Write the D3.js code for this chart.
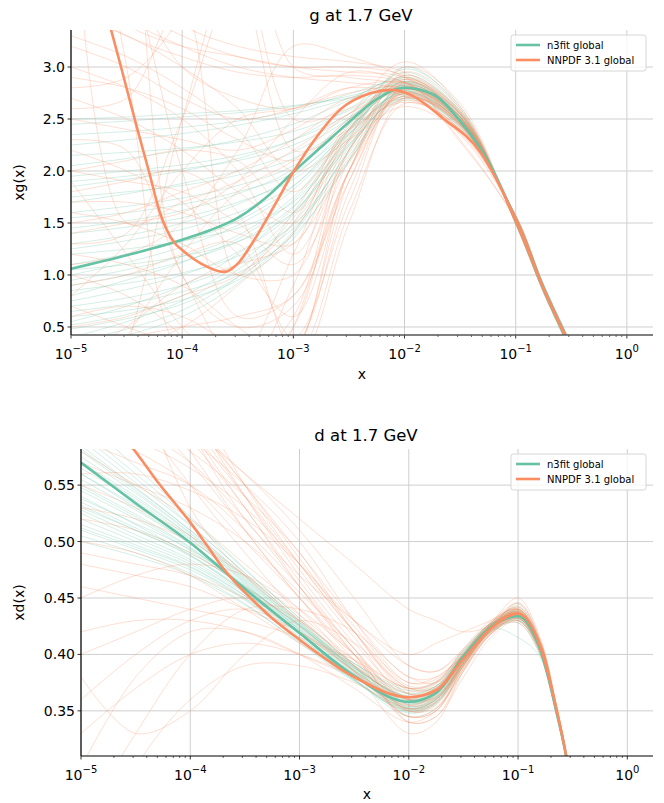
<!DOCTYPE html>
<html>
<head>
<meta charset="utf-8">
<script src="https://cdn.jsdelivr.net/npm/d3@7"></script>
<style>
  body { margin: 0; background: #fff; }
  svg { font-family: "DejaVu Sans", sans-serif; }
</style>
</head>
<body>
<div id="chart"></div>
<script>
// colours of the two fits
var n3fitColor = "#66c2a5";
var nnpdfColor = "#fc8d62";
var legendLabels = ["n3fit global", "NNPDF 3.1 global"];

// ---- gluon panel ----
// x positions are log10(x)
var gCentralN3fitX = [-5, -4.5, -4, -3.75, -3.5, -3.25, -3, -2.75, -2.5, -2.25, -2, -1.75, -1.5, -1.25, -1, -0.75, -0.55, -0.45];
var gCentralN3fitY = [1.06, 1.19, 1.34, 1.43, 1.55, 1.74, 1.99, 2.23, 2.47, 2.69, 2.80, 2.74, 2.48, 2.10, 1.53, 0.87, 0.40, 0.15];
var gCentralNnpdfX = [-4.7, -4.55, -4.4, -4.3, -4.2, -4.07, -4, -3.83, -3.62, -3.5, -3.35, -3.18, -3, -2.76, -2.58, -2.3, -2.12, -1.94, -1.67, -1.31, -1, -0.75, -0.55, -0.45];
var gCentralNnpdfY = [3.6, 3.0, 2.39, 2.0, 1.6, 1.31, 1.24, 1.11, 1.03, 1.11, 1.34, 1.65, 1.99, 2.37, 2.59, 2.75, 2.78, 2.73, 2.52, 2.17, 1.53, 0.87, 0.40, 0.15];

var gReplicaX = [-5, -4.5, -4, -3.5, -3, -2.5, -2, -1.5, -1, -0.75, -0.5];
var gN3fitReplicas = [
  [2.45, 2.48, 2.52, 2.56, 2.62, 2.72, 2.82, 2.50, 1.52, 0.86, 0.28],
  [0.55, 0.70, 0.90, 1.20, 1.65, 2.30, 2.78, 2.49, 1.54, 0.88, 0.30],
  [1.85, 1.92, 2.00, 2.12, 2.30, 2.60, 2.85, 2.52, 1.51, 0.85, 0.27],
  [0.95, 1.05, 1.18, 1.38, 1.75, 2.35, 2.76, 2.46, 1.55, 0.89, 0.31],
  [1.30, 1.38, 1.50, 1.68, 1.95, 2.42, 2.80, 2.50, 1.53, 0.87, 0.29],
  [0.40, 0.55, 0.75, 1.05, 1.50, 2.22, 2.74, 2.47, 1.56, 0.90, 0.32],
  [2.05, 2.12, 2.20, 2.30, 2.45, 2.68, 2.90, 2.55, 1.50, 0.84, 0.26],
  [1.60, 1.66, 1.74, 1.86, 2.05, 2.45, 2.82, 2.51, 1.52, 0.86, 0.28],
  [0.75, 0.86, 1.00, 1.22, 1.60, 2.28, 2.77, 2.48, 1.54, 0.88, 0.30],
  [1.10, 1.20, 1.32, 1.52, 1.85, 2.40, 2.83, 2.52, 1.52, 0.86, 0.28],
  [0.30, 0.42, 0.60, 0.92, 1.42, 2.18, 2.72, 2.45, 1.56, 0.90, 0.33],
  [1.95, 2.00, 2.06, 2.15, 2.30, 2.55, 2.95, 2.58, 1.49, 0.83, 0.25],
  [1.45, 1.52, 1.62, 1.78, 2.02, 2.50, 2.86, 2.53, 1.51, 0.85, 0.27],
  [0.85, 0.92, 1.02, 1.18, 1.48, 2.15, 2.70, 2.44, 1.57, 0.91, 0.34],
  [2.25, 2.30, 2.36, 2.44, 2.55, 2.70, 2.88, 2.54, 1.51, 0.85, 0.27],
  [0.60, 0.66, 0.76, 0.95, 1.35, 2.10, 2.68, 2.43, 1.57, 0.91, 0.34],
  [1.70, 1.78, 1.88, 2.00, 2.18, 2.50, 2.84, 2.51, 1.52, 0.86, 0.28],
  [1.20, 1.25, 1.33, 1.45, 1.70, 2.32, 2.79, 2.49, 1.53, 0.87, 0.29],
  [0.48, 0.58, 0.72, 0.98, 1.40, 2.20, 2.81, 2.50, 1.53, 0.87, 0.29],
  [1.00, 1.12, 1.27, 1.48, 1.82, 2.38, 3.00, 2.60, 1.50, 0.84, 0.26],
  [2.50, 2.52, 2.55, 2.58, 2.63, 2.70, 2.78, 2.47, 1.53, 0.87, 0.29],
  [0.35, 0.48, 0.66, 0.98, 1.55, 2.25, 2.75, 2.45, 1.55, 0.89, 0.31],
  [1.40, 1.46, 1.55, 1.70, 1.92, 2.38, 2.90, 2.56, 1.51, 0.85, 0.27],
  [0.70, 0.78, 0.90, 1.10, 1.45, 2.12, 2.80, 2.52, 1.52, 0.86, 0.28],
  [1.75, 1.80, 1.86, 1.96, 2.12, 2.44, 2.74, 2.42, 1.56, 0.90, 0.32],
  [0.90, 1.00, 1.13, 1.32, 1.66, 2.33, 2.92, 2.57, 1.50, 0.85, 0.27],
  [2.15, 2.18, 2.22, 2.28, 2.38, 2.58, 2.80, 2.48, 1.54, 0.88, 0.30],
  [0.52, 0.62, 0.80, 1.10, 1.58, 2.26, 2.70, 2.40, 1.57, 0.91, 0.33],
  [1.25, 1.33, 1.44, 1.60, 1.86, 2.36, 2.76, 2.47, 1.54, 0.88, 0.30],
  [1.55, 1.60, 1.68, 1.80, 1.98, 2.40, 2.98, 2.62, 1.49, 0.83, 0.25],
  [0.65, 0.72, 0.84, 1.02, 1.38, 2.08, 2.84, 2.53, 1.52, 0.86, 0.28],
  [2.35, 2.38, 2.42, 2.48, 2.58, 2.74, 2.86, 2.50, 1.52, 0.86, 0.28],
  [1.05, 1.10, 1.18, 1.32, 1.60, 2.24, 2.72, 2.44, 1.56, 0.90, 0.32],
  [1.90, 1.95, 2.02, 2.10, 2.25, 2.52, 2.82, 2.50, 1.53, 0.87, 0.29],
  [0.80, 0.95, 1.12, 1.35, 1.72, 2.36, 2.86, 2.55, 1.51, 0.85, 0.27]
];
var gNnpdfReplicas = [
  [3.6, 3.3, 3.1, 2.95, 2.9, 2.92, 2.85, 2.52, 1.52, 0.88, 0.30],
  [0.2, 0.5, 0.9, 1.1, 1.3, 2.1, 2.75, 2.48, 1.54, 0.86, 0.30],
  [5.0, 4.0, 2.0, 0.6, 0.8, 2.0, 2.70, 2.45, 1.55, 0.87, 0.30],
  [1.8, 1.9, 2.0, 1.6, 0.3, 1.9, 2.78, 2.50, 1.53, 0.86, 0.29],
  [2.5, 2.4, 2.3, 2.2, 2.4, 2.7, 2.75, 2.42, 1.56, 0.88, 0.31],
  [-1.0, 0.3, 2.5, 4.0, 2.5, 2.6, 2.82, 2.52, 1.51, 0.85, 0.28],
  [3.0, 2.8, 2.5, 2.0, 1.2, 2.2, 2.88, 2.55, 1.50, 0.84, 0.27],
  [1.2, 1.1, 0.9, 0.5, 0.2, 1.6, 2.65, 2.40, 1.57, 0.89, 0.32],
  [4.5, 3.5, 3.2, 3.0, 2.9, 2.85, 2.78, 2.47, 1.54, 0.87, 0.30],
  [0.8, 1.3, 2.0, 2.5, 2.6, 2.75, 2.80, 2.49, 1.53, 0.86, 0.29],
  [2.2, 2.0, 1.7, 1.2, 0.6, 2.0, 2.95, 2.60, 1.50, 0.84, 0.27],
  [6.0, 3.0, 0.2, 0.0, 0.9, 2.3, 2.72, 2.44, 1.55, 0.88, 0.31],
  [1.5, 1.6, 1.8, 2.0, 2.3, 2.65, 2.85, 2.30, 1.52, 0.87, 0.30],
  [3.3, 3.1, 2.8, 2.4, 1.8, 2.4, 2.70, 2.50, 1.53, 0.86, 0.29],
  [0.5, 0.6, 0.8, 1.0, 1.5, 2.5, 3.05, 2.62, 1.49, 0.84, 0.27],
  [2.8, 2.9, 3.5, 4.5, 3.0, 2.9, 2.82, 2.50, 1.53, 0.86, 0.29],
  [1.0, 0.8, 0.4, -0.5, 0.5, 2.0, 2.76, 2.46, 1.54, 0.87, 0.30],
  [3.8, 3.4, 3.2, 3.1, 3.0, 2.95, 2.90, 2.56, 1.51, 0.85, 0.28],
  [2.0, 2.1, 2.2, 2.1, 1.6, 2.3, 2.68, 2.38, 1.56, 0.88, 0.31],
  [0.3, 0.4, 0.5, 0.6, 0.8, 1.9, 2.80, 2.50, 1.53, 0.86, 0.29],
  [5.0, 1.5, 1.7, 1.9, 2.2, 2.55, 2.75, 2.45, 1.55, 0.87, 0.30],
  [1.4, 1.5, 1.6, 1.9, 2.5, 2.95, 2.85, 2.50, 1.53, 0.86, 0.29],
  [4.0, 3.6, 3.3, 3.1, 3.0, 3.0, 2.92, 2.58, 1.51, 0.85, 0.28],
  [0.1, 0.2, 0.3, 0.2, 0.3, 1.8, 2.78, 2.48, 1.54, 0.87, 0.30],
  [2.6, 2.7, 3.6, 1.0, 1.6, 2.4, 2.80, 2.45, 1.55, 0.88, 0.31],
  [1.6, 1.5, 1.3, 1.0, 1.0, 2.2, 2.72, 2.35, 1.56, 0.88, 0.31],
  [5.5, 4.0, 3.0, 2.7, 2.6, 2.8, 2.85, 2.55, 1.51, 0.85, 0.28],
  [0.9, 1.0, 1.2, 1.3, 0.4, 1.7, 2.82, 2.52, 1.52, 0.86, 0.29],
  [3.2, 3.0, 2.7, 2.5, 2.6, 2.8, 2.72, 2.40, 1.57, 0.89, 0.32],
  [2.3, 2.2, 1.0, 0.2, 1.2, 2.4, 2.90, 2.50, 1.52, 0.86, 0.29],
  [-0.5, 0.4, 1.2, 1.8, 2.1, 2.55, 2.76, 2.44, 1.55, 0.88, 0.31],
  [3.5, 3.3, 3.0, 2.6, 2.0, 2.3, 2.62, 2.36, 1.58, 0.90, 0.33],
  [1.1, 1.2, 1.5, 2.2, 3.2, 3.1, 2.90, 2.55, 1.51, 0.85, 0.28],
  [7.0, 5.0, 1.0, 0.5, 0.7, 2.0, 2.85, 2.52, 1.52, 0.86, 0.29],
  [2.0, 1.9, 1.8, 1.5, 1.1, 2.1, 3.00, 2.65, 1.49, 0.84, 0.27],
  [0.6, 0.7, 0.6, 0.3, 0.1, 1.5, 2.70, 2.45, 1.55, 0.88, 0.31],
  [2.9, 2.8, 2.6, 2.3, 2.1, 2.5, 2.84, 2.28, 1.53, 0.87, 0.30],
  [1.3, 1.4, 2.5, 3.8, 2.2, 2.4, 2.74, 2.46, 1.54, 0.87, 0.30],
  [4.2, 3.8, 3.4, 3.2, 3.1, 3.05, 2.95, 2.58, 1.50, 0.85, 0.28],
  [0.4, 0.3, 0.5, 0.9, 1.4, 2.4, 2.88, 2.54, 1.52, 0.86, 0.29],
  [1.7, 1.7, 1.6, 1.4, 1.3, 2.35, 2.66, 2.42, 1.56, 0.89, 0.32],
  [2.7, 2.5, 2.2, 1.8, 1.5, 2.45, 2.80, 2.48, 1.54, 0.87, 0.30],
  [0.3, 0.2, 0.1, -0.2, 0.2, 2.0, 2.80, 2.50, 1.53, 0.86, 0.29],
  [1.9, 1.2, 0.5, 0.0, 0.5, 2.2, 2.86, 2.52, 1.52, 0.86, 0.29],
  [0.7, 0.5, 0.3, 0.1, 0.6, 2.3, 2.92, 2.56, 1.51, 0.85, 0.28]
];
var gYTicks = [0.5, 1.0, 1.5, 2.0, 2.5, 3.0];

// ---- down quark panel ----
var dCentralN3fitX = [-5, -4.5, -4, -3.5, -3, -2.5, -2, -1.75, -1.5, -1.25, -1, -0.8, -0.65, -0.55, -0.45];
var dCentralN3fitY = [0.570, 0.534, 0.499, 0.458, 0.419, 0.381, 0.358, 0.366, 0.398, 0.424, 0.434, 0.405, 0.350, 0.305, 0.24];
var dCentralNnpdfX = [-4.6, -4.45, -4.3, -4.15, -4, -3.85, -3.72, -3.6, -3.5, -3.25, -3, -2.5, -2, -1.75, -1.5, -1.25, -1, -0.8, -0.65, -0.55, -0.45];
var dCentralNnpdfY = [0.592, 0.573, 0.553, 0.535, 0.517, 0.497, 0.479, 0.465, 0.455, 0.432, 0.413, 0.380, 0.362, 0.368, 0.396, 0.423, 0.436, 0.408, 0.352, 0.305, 0.24];

var dReplicaX = [-5, -4.5, -4, -3.5, -3, -2.5, -2, -1.75, -1.5, -1.25, -1, -0.8, -0.65, -0.55, -0.45];
var dN3fitReplicas = [
  [0.600, 0.560, 0.520, 0.475, 0.432, 0.392, 0.368, 0.374, 0.404, 0.428, 0.438, 0.408, 0.352, 0.306, 0.24],
  [0.515, 0.497, 0.478, 0.450, 0.415, 0.380, 0.352, 0.360, 0.392, 0.420, 0.430, 0.403, 0.348, 0.303, 0.24],
  [0.545, 0.520, 0.492, 0.458, 0.420, 0.383, 0.356, 0.364, 0.396, 0.424, 0.434, 0.405, 0.350, 0.305, 0.24],
  [0.585, 0.548, 0.510, 0.470, 0.428, 0.388, 0.362, 0.370, 0.400, 0.428, 0.440, 0.410, 0.354, 0.307, 0.24],
  [0.530, 0.510, 0.488, 0.456, 0.418, 0.378, 0.345, 0.352, 0.385, 0.418, 0.432, 0.406, 0.351, 0.305, 0.24],
  [0.570, 0.540, 0.505, 0.465, 0.425, 0.390, 0.365, 0.372, 0.402, 0.426, 0.436, 0.407, 0.350, 0.304, 0.24],
  [0.505, 0.490, 0.472, 0.445, 0.410, 0.376, 0.350, 0.358, 0.392, 0.422, 0.445, 0.412, 0.355, 0.308, 0.24],
  [0.555, 0.528, 0.498, 0.462, 0.424, 0.386, 0.358, 0.366, 0.398, 0.426, 0.438, 0.408, 0.351, 0.305, 0.24],
  [0.595, 0.556, 0.515, 0.472, 0.430, 0.390, 0.360, 0.368, 0.400, 0.425, 0.432, 0.404, 0.349, 0.304, 0.24],
  [0.525, 0.503, 0.482, 0.452, 0.416, 0.378, 0.348, 0.356, 0.390, 0.420, 0.428, 0.400, 0.347, 0.302, 0.24],
  [0.560, 0.532, 0.502, 0.464, 0.422, 0.384, 0.356, 0.363, 0.395, 0.423, 0.415, 0.398, 0.346, 0.302, 0.24],
  [0.540, 0.515, 0.488, 0.455, 0.418, 0.382, 0.354, 0.362, 0.394, 0.425, 0.440, 0.409, 0.353, 0.306, 0.24],
  [0.580, 0.545, 0.508, 0.468, 0.427, 0.388, 0.363, 0.371, 0.401, 0.427, 0.435, 0.406, 0.350, 0.304, 0.24],
  [0.510, 0.493, 0.475, 0.448, 0.413, 0.377, 0.349, 0.357, 0.390, 0.421, 0.433, 0.405, 0.350, 0.305, 0.24],
  [0.565, 0.536, 0.503, 0.463, 0.421, 0.381, 0.352, 0.360, 0.393, 0.424, 0.437, 0.407, 0.351, 0.305, 0.24],
  [0.535, 0.512, 0.490, 0.460, 0.426, 0.392, 0.370, 0.376, 0.403, 0.427, 0.434, 0.405, 0.350, 0.304, 0.24],
  [0.590, 0.552, 0.514, 0.472, 0.429, 0.389, 0.361, 0.368, 0.399, 0.425, 0.433, 0.405, 0.350, 0.304, 0.24],
  [0.520, 0.500, 0.480, 0.452, 0.418, 0.383, 0.357, 0.365, 0.396, 0.423, 0.436, 0.407, 0.351, 0.305, 0.24],
  [0.550, 0.524, 0.495, 0.460, 0.423, 0.386, 0.359, 0.367, 0.397, 0.424, 0.431, 0.403, 0.349, 0.304, 0.24],
  [0.575, 0.543, 0.507, 0.467, 0.426, 0.387, 0.360, 0.366, 0.398, 0.426, 0.442, 0.411, 0.354, 0.307, 0.24],
  [0.500, 0.487, 0.470, 0.444, 0.411, 0.377, 0.351, 0.359, 0.391, 0.420, 0.432, 0.405, 0.350, 0.305, 0.24],
  [0.560, 0.530, 0.498, 0.460, 0.420, 0.382, 0.353, 0.361, 0.394, 0.423, 0.435, 0.406, 0.350, 0.305, 0.24],
  [0.610, 0.566, 0.522, 0.476, 0.432, 0.392, 0.366, 0.372, 0.401, 0.426, 0.437, 0.408, 0.352, 0.305, 0.24],
  [0.538, 0.516, 0.493, 0.461, 0.425, 0.388, 0.362, 0.369, 0.399, 0.425, 0.433, 0.404, 0.349, 0.304, 0.24],
  [0.528, 0.506, 0.484, 0.454, 0.419, 0.382, 0.354, 0.361, 0.393, 0.423, 0.438, 0.409, 0.352, 0.306, 0.24],
  [0.568, 0.538, 0.505, 0.466, 0.426, 0.386, 0.357, 0.364, 0.396, 0.425, 0.439, 0.409, 0.353, 0.306, 0.24],
  [0.512, 0.495, 0.477, 0.449, 0.414, 0.378, 0.350, 0.357, 0.391, 0.421, 0.430, 0.402, 0.348, 0.303, 0.24],
  [0.548, 0.522, 0.494, 0.459, 0.422, 0.385, 0.358, 0.366, 0.397, 0.424, 0.435, 0.406, 0.350, 0.305, 0.24],
  [0.582, 0.547, 0.510, 0.469, 0.428, 0.389, 0.363, 0.370, 0.400, 0.427, 0.436, 0.407, 0.351, 0.305, 0.24],
  [0.532, 0.510, 0.487, 0.455, 0.419, 0.381, 0.352, 0.360, 0.393, 0.422, 0.434, 0.406, 0.350, 0.305, 0.24]
];
var dNnpdfReplicas = [
  [0.70, 0.64, 0.58, 0.51, 0.45, 0.40, 0.370, 0.375, 0.405, 0.430, 0.440, 0.410, 0.353, 0.306, 0.24],
  [0.50, 0.49, 0.47, 0.44, 0.41, 0.38, 0.355, 0.365, 0.395, 0.423, 0.436, 0.407, 0.351, 0.305, 0.24],
  [0.42, 0.43, 0.43, 0.42, 0.40, 0.38, 0.362, 0.370, 0.398, 0.425, 0.438, 0.408, 0.352, 0.305, 0.24],
  [0.80, 0.70, 0.60, 0.52, 0.47, 0.43, 0.390, 0.385, 0.405, 0.428, 0.440, 0.410, 0.353, 0.306, 0.24],
  [0.30, 0.38, 0.42, 0.42, 0.40, 0.37, 0.340, 0.350, 0.388, 0.418, 0.432, 0.405, 0.350, 0.305, 0.24],
  [0.65, 0.62, 0.59, 0.55, 0.50, 0.43, 0.375, 0.380, 0.400, 0.425, 0.437, 0.408, 0.352, 0.305, 0.24],
  [0.48, 0.47, 0.46, 0.44, 0.42, 0.39, 0.360, 0.362, 0.393, 0.427, 0.450, 0.415, 0.356, 0.308, 0.24],
  [0.60, 0.58, 0.55, 0.50, 0.45, 0.40, 0.350, 0.355, 0.390, 0.420, 0.433, 0.406, 0.351, 0.305, 0.24],
  [0.20, 0.30, 0.36, 0.39, 0.39, 0.375, 0.352, 0.360, 0.392, 0.421, 0.434, 0.406, 0.351, 0.305, 0.24],
  [0.75, 0.62, 0.55, 0.49, 0.435, 0.39, 0.360, 0.367, 0.398, 0.424, 0.438, 0.409, 0.352, 0.306, 0.24],
  [0.56, 0.56, 0.545, 0.52, 0.48, 0.43, 0.400, 0.410, 0.420, 0.430, 0.440, 0.410, 0.353, 0.306, 0.24],
  [0.38, 0.33, 0.35, 0.40, 0.43, 0.41, 0.370, 0.370, 0.396, 0.424, 0.437, 0.408, 0.351, 0.305, 0.24],
  [0.62, 0.60, 0.57, 0.52, 0.46, 0.40, 0.340, 0.345, 0.380, 0.415, 0.430, 0.404, 0.350, 0.304, 0.24],
  [0.55, 0.53, 0.505, 0.47, 0.43, 0.385, 0.330, 0.340, 0.385, 0.418, 0.432, 0.405, 0.350, 0.305, 0.24],
  [0.90, 0.66, 0.53, 0.47, 0.43, 0.395, 0.365, 0.370, 0.400, 0.428, 0.445, 0.413, 0.355, 0.307, 0.24],
  [0.46, 0.45, 0.44, 0.43, 0.415, 0.395, 0.370, 0.375, 0.400, 0.426, 0.436, 0.407, 0.351, 0.305, 0.24],
  [0.66, 0.63, 0.60, 0.56, 0.52, 0.48, 0.440, 0.430, 0.420, 0.425, 0.435, 0.407, 0.351, 0.305, 0.24],
  [0.58, 0.55, 0.52, 0.48, 0.44, 0.39, 0.345, 0.350, 0.390, 0.422, 0.428, 0.400, 0.348, 0.303, 0.24],
  [0.25, 0.33, 0.40, 0.44, 0.44, 0.42, 0.380, 0.375, 0.400, 0.426, 0.442, 0.411, 0.354, 0.306, 0.24],
  [0.52, 0.51, 0.49, 0.46, 0.425, 0.385, 0.355, 0.362, 0.395, 0.422, 0.435, 0.407, 0.351, 0.305, 0.24],
  [0.72, 0.66, 0.60, 0.54, 0.48, 0.42, 0.375, 0.378, 0.402, 0.428, 0.441, 0.410, 0.353, 0.306, 0.24],
  [0.85, 0.72, 0.62, 0.54, 0.47, 0.41, 0.365, 0.370, 0.398, 0.425, 0.437, 0.408, 0.352, 0.305, 0.24],
  [0.68, 0.64, 0.59, 0.53, 0.46, 0.40, 0.352, 0.358, 0.392, 0.422, 0.436, 0.407, 0.351, 0.305, 0.24],
  [0.63, 0.61, 0.58, 0.54, 0.49, 0.42, 0.368, 0.372, 0.398, 0.424, 0.433, 0.405, 0.350, 0.304, 0.24],
  [0.45, 0.47, 0.48, 0.47, 0.44, 0.40, 0.360, 0.363, 0.394, 0.423, 0.437, 0.408, 0.351, 0.305, 0.24],
  [0.40, 0.42, 0.44, 0.45, 0.43, 0.39, 0.345, 0.350, 0.388, 0.420, 0.434, 0.406, 0.351, 0.305, 0.24],
  [0.76, 0.68, 0.61, 0.55, 0.49, 0.43, 0.380, 0.380, 0.400, 0.426, 0.439, 0.409, 0.352, 0.306, 0.24],
  [0.59, 0.57, 0.55, 0.51, 0.46, 0.405, 0.358, 0.362, 0.393, 0.422, 0.446, 0.414, 0.355, 0.307, 0.24],
  [0.66, 0.62, 0.57, 0.51, 0.45, 0.395, 0.350, 0.353, 0.387, 0.418, 0.430, 0.403, 0.349, 0.304, 0.24],
  [0.53, 0.52, 0.50, 0.47, 0.435, 0.395, 0.360, 0.366, 0.397, 0.424, 0.430, 0.402, 0.348, 0.303, 0.24],
  [0.95, 0.78, 0.64, 0.55, 0.48, 0.42, 0.370, 0.372, 0.399, 0.426, 0.443, 0.412, 0.354, 0.306, 0.24],
  [0.36, 0.40, 0.43, 0.44, 0.42, 0.385, 0.345, 0.352, 0.390, 0.420, 0.432, 0.405, 0.350, 0.305, 0.24],
  [0.70, 0.66, 0.61, 0.55, 0.485, 0.42, 0.365, 0.368, 0.396, 0.425, 0.438, 0.408, 0.352, 0.305, 0.24],
  [0.57, 0.55, 0.53, 0.50, 0.455, 0.405, 0.340, 0.345, 0.386, 0.419, 0.434, 0.406, 0.351, 0.305, 0.24],
  [0.64, 0.62, 0.60, 0.56, 0.51, 0.45, 0.390, 0.385, 0.403, 0.427, 0.436, 0.407, 0.351, 0.305, 0.24],
  [0.49, 0.48, 0.47, 0.45, 0.42, 0.385, 0.352, 0.358, 0.392, 0.422, 0.440, 0.410, 0.353, 0.306, 0.24],
  [0.78, 0.69, 0.61, 0.54, 0.475, 0.415, 0.360, 0.365, 0.396, 0.424, 0.434, 0.406, 0.351, 0.305, 0.24],
  [0.61, 0.59, 0.565, 0.53, 0.48, 0.425, 0.372, 0.376, 0.400, 0.426, 0.439, 0.409, 0.352, 0.306, 0.24],
  [0.33, 0.37, 0.40, 0.41, 0.40, 0.38, 0.350, 0.357, 0.390, 0.421, 0.436, 0.407, 0.351, 0.305, 0.24],
  [0.74, 0.67, 0.60, 0.53, 0.465, 0.405, 0.355, 0.360, 0.393, 0.423, 0.437, 0.408, 0.352, 0.305, 0.24]
];
var dYTicks = [0.35, 0.40, 0.45, 0.50, 0.55];

var xTickExps = [-5, -4, -3, -2, -1, 0];

var svg = d3.select("#chart").append("svg")
  .attr("width", 664)
  .attr("height", 803);

var panels = [
  {id: "g", title: "g at 1.7 GeV", ylabel: "xg(x)", top: 30, bottom: 335, left: 71, right: 653,
   ydomain: [0.423, 3.356], yticks: gYTicks, yfmt: d3.format(".1f"), ylabelX: 24, titleY: 21, xlabelY: 379,
   replicaX: gReplicaX, n3fitReps: gN3fitReplicas, nnpdfReps: gNnpdfReplicas,
   cN3fit: [gCentralN3fitX, gCentralN3fitY], cNnpdf: [gCentralNnpdfX, gCentralNnpdfY], bottomSpine: "#555"},
  {id: "d", title: "d at 1.7 GeV", ylabel: "xd(x)", top: 449, bottom: 756, left: 81, right: 653,
   ydomain: [0.310, 0.582], yticks: dYTicks, yfmt: d3.format(".2f"), ylabelX: 24, titleY: 441, xlabelY: 799,
   replicaX: dReplicaX, n3fitReps: dN3fitReplicas, nnpdfReps: dNnpdfReplicas,
   cN3fit: [dCentralN3fitX, dCentralN3fitY], cNnpdf: [dCentralNnpdfX, dCentralNnpdfY], bottomSpine: "#000"}
];

panels.forEach(function(p) {
  var x = d3.scaleLog()
    .domain([1e-5, Math.pow(10, 0.235)])
    .range([p.left, p.right]);
  var y = d3.scaleLinear()
    .domain(p.ydomain)
    .range([p.bottom, p.top]);

  var g = svg.append("g");

  g.append("clipPath").attr("id", "clip-" + p.id)
    .append("rect")
    .attr("x", p.left).attr("y", p.top)
    .attr("width", p.right - p.left).attr("height", p.bottom - p.top);

  // grid
  g.append("g").selectAll("line").data(xTickExps).enter().append("line")
    .attr("x1", d => x(Math.pow(10, d))).attr("x2", d => x(Math.pow(10, d)))
    .attr("y1", p.top).attr("y2", p.bottom)
    .attr("stroke", "#cfcfcf").attr("stroke-width", 1);
  g.append("g").selectAll("line").data(p.yticks).enter().append("line")
    .attr("x1", p.left).attr("x2", p.right)
    .attr("y1", d => y(d)).attr("y2", d => y(d))
    .attr("stroke", "#cfcfcf").attr("stroke-width", 1);

  var repLine = d3.line()
    .x(d => x(Math.pow(10, d[0])))
    .y(d => y(d[1]))
    .curve(d3.curveCatmullRom.alpha(0.5));
  var centralLine = d3.line()
    .x(d => x(Math.pow(10, d[0])))
    .y(d => y(d[1]))
    .curve(d3.curveMonotoneX);

  var plot = g.append("g").attr("clip-path", "url(#clip-" + p.id + ")");

  function reps(list, color, op) {
    plot.append("g").selectAll("path").data(list).enter().append("path")
      .attr("d", r => repLine(p.replicaX.map((lx, i) => [lx, r[i]])))
      .attr("fill", "none")
      .attr("stroke", color)
      .attr("stroke-opacity", op)
      .attr("stroke-width", 1);
  }
  reps(p.n3fitReps, n3fitColor, 0.28);
  reps(p.nnpdfReps, nnpdfColor, 0.28);

  function central(c, color) {
    plot.append("path")
      .attr("d", centralLine(c[0].map((lx, i) => [lx, c[1][i]])))
      .attr("fill", "none")
      .attr("stroke", color)
      .attr("stroke-width", 2.6);
  }
  central(p.cN3fit, n3fitColor);
  central(p.cNnpdf, nnpdfColor);

  // axes
  var minor = [];
  for (var e = -5; e <= 0; e++) {
    for (var k = 2; k <= 9; k++) {
      var v = k * Math.pow(10, e);
      if (v < x.domain()[1]) minor.push(v);
    }
  }
  var ax = g.append("g").attr("transform", `translate(0,${p.bottom})`);
  ax.selectAll(".minor").data(minor).enter().append("line")
    .attr("x1", d => x(d)).attr("x2", d => x(d))
    .attr("y1", 0).attr("y2", 2)
    .attr("stroke", "#000").attr("stroke-width", 0.6);
  ax.selectAll(".major").data(xTickExps).enter().append("line")
    .attr("x1", d => x(Math.pow(10, d))).attr("x2", d => x(Math.pow(10, d)))
    .attr("y1", 0).attr("y2", 3.5)
    .attr("stroke", "#000").attr("stroke-width", 0.8);
  var lbl = ax.selectAll("text").data(xTickExps).enter().append("text")
    .attr("x", d => x(Math.pow(10, d)))
    .attr("y", 24)
    .attr("text-anchor", "middle")
    .attr("font-size", 14)
    .attr("fill", "#000");
  lbl.append("tspan").text("10");
  lbl.append("tspan").attr("font-size", 10).attr("dy", -7)
    .text(d => d === 0 ? "0" : "\u2212" + (-d));
  ax.append("line")
    .attr("x1", p.left).attr("x2", p.right)
    .attr("stroke", p.bottomSpine).attr("stroke-width", p.id === "g" ? 1.6 : 1.2);

  var ay = g.append("g");
  ay.selectAll("line").data(p.yticks).enter().append("line")
    .attr("x1", p.left - 3.5).attr("x2", p.left)
    .attr("y1", d => y(d)).attr("y2", d => y(d))
    .attr("stroke", "#000").attr("stroke-width", 0.8);
  ay.selectAll("text").data(p.yticks).enter().append("text")
    .attr("x", p.left - 6)
    .attr("y", d => y(d) + 5)
    .attr("text-anchor", "end")
    .attr("font-size", 14)
    .text(d => p.yfmt(d));
  ay.append("line")
    .attr("x1", p.left).attr("x2", p.left)
    .attr("y1", p.top).attr("y2", p.bottom)
    .attr("stroke", "#000").attr("stroke-width", 1.2);

  // labels
  g.append("text")
    .attr("x", (p.left + p.right) / 2 - 1)
    .attr("y", p.titleY)
    .attr("text-anchor", "middle")
    .attr("font-size", 16.5)
    .text(p.title);
  g.append("text")
    .attr("x", (p.left + p.right) / 2)
    .attr("y", p.xlabelY)
    .attr("text-anchor", "middle")
    .attr("font-size", 14)
    .text("x");
  g.append("text")
    .attr("transform", `translate(${p.ylabelX},${(p.top + p.bottom) / 2}) rotate(-90)`)
    .attr("text-anchor", "middle")
    .attr("font-size", 14)
    .text(p.ylabel);

  // legend
  var lg = g.append("g").attr("transform", `translate(511,${p.top + 5})`);
  lg.append("rect")
    .attr("width", 135).attr("height", 36).attr("rx", 2.5)
    .attr("fill", "#fff").attr("fill-opacity", 0.8)
    .attr("stroke", "#d6d6d6").attr("stroke-width", 1);
  [n3fitColor, nnpdfColor].forEach(function(c, i) {
    lg.append("line")
      .attr("x1", 5).attr("x2", 29)
      .attr("y1", 10 + i * 15).attr("y2", 10 + i * 15)
      .attr("stroke", c).attr("stroke-width", 2.6);
    lg.append("text")
      .attr("x", 36).attr("y", 13.5 + i * 15)
      .attr("font-size", 10)
      .text(legendLabels[i]);
  });
});
</script>
</body>
</html>
